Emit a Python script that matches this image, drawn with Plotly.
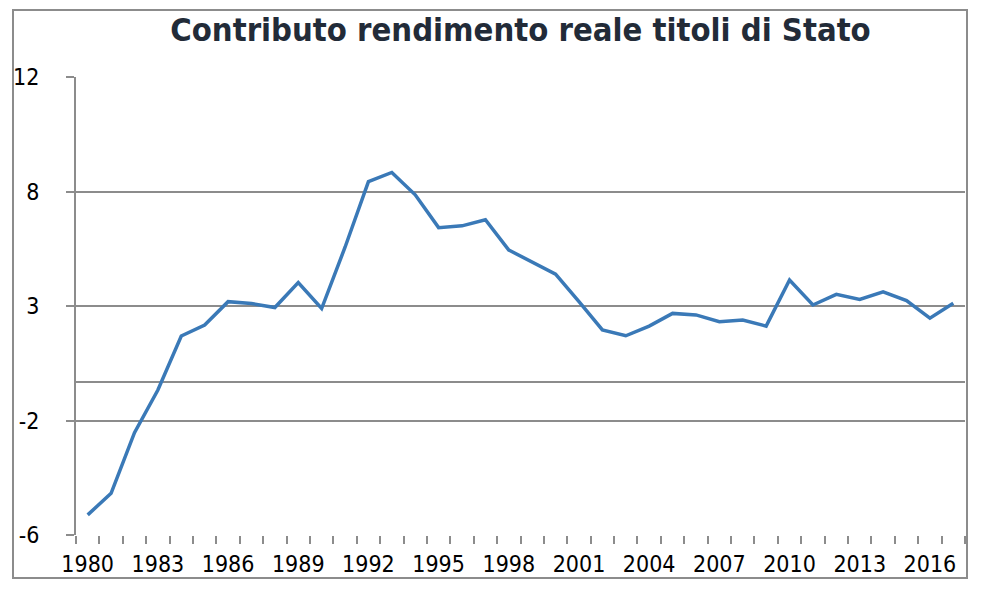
import plotly.graph_objects as go

years = list(range(1980, 2018))
values = [-5.21, -4.36, -1.98, -0.30, 1.82, 2.25, 3.17, 3.10, 2.94, 3.92,
          2.90, 5.31, 7.89, 8.25, 7.37, 6.08, 6.15, 6.39, 5.20, 4.73,
          4.25, 3.17, 2.06, 1.83, 2.21, 2.71, 2.65, 2.38, 2.45, 2.21,
          4.02, 3.04, 3.46, 3.26, 3.56, 3.21, 2.52, 3.11]
y_tickvals = [-6, -1.5, 3, 7.5, 12]
y_ticktext = ["-6", "-2", "3", "8", "12"]
x_label_years = list(range(1980, 2018, 3))
title_text = "Contributo rendimento reale titoli di Stato"

# the page body has an 8px margin, so the figure is drawn 8px in from the window edge
OFF = 8
W, H = 982 - OFF, 594 - OFF
ml, mt = 76 - OFF, 77 - OFF
mr = W - (965 - OFF)
mb = H - (535 - OFF)
pw, ph = W - ml - mr, H - mt - mb

GRID = "#8c8c8c"
FONT = "DejaVu Sans Condensed, DejaVu Sans, sans-serif"
TICK_SIZE = 23

fig = go.Figure()
fig.add_trace(go.Scatter(x=years, y=values, mode="lines",
                         line=dict(color="#3a79b7", width=3.5),
                         hoverinfo="x+y", showlegend=False))

fig.update_layout(
    width=W, height=H,
    margin=dict(l=ml, r=mr, t=mt, b=mb, autoexpand=False),
    paper_bgcolor="white", plot_bgcolor="white",
    title=dict(text="<b>" + title_text + "</b>", x=0.5, xref="paper",
               y=1 - (30 - OFF) / H, yref="container", yanchor="middle", xanchor="center",
               font=dict(family=FONT, size=32.5, color="#222b38")),
    font=dict(family=FONT, size=TICK_SIZE, color="black"),
)

fig.update_xaxes(
    automargin=False,
    range=[years[0] - 0.5, years[-1] + 0.5],
    tickmode="array", tickvals=x_label_years,
    ticktext=[str(v) for v in x_label_years],
    ticks="", showgrid=False, zeroline=False,
    showline=False, ticklabelstandoff=13,
    tickfont=dict(family=FONT, size=TICK_SIZE, color="black"),
    minor=dict(tickmode="array",
               tickvals=[y - 0.5 for y in years] + [years[-1] + 0.5],
               ticks="outside", ticklen=8, tickwidth=2, tickcolor=GRID,
               showgrid=False),
)
fig.update_yaxes(
    automargin=False,
    range=[-6, 12], tickmode="array", tickvals=y_tickvals, ticktext=y_ticktext,
    ticks="outside", ticklen=8, tickwidth=2, tickcolor=GRID,
    showgrid=True, gridcolor=GRID, gridwidth=2,
    zeroline=True, zerolinecolor=GRID, zerolinewidth=2,
    showline=True, linecolor=GRID, linewidth=2,
    ticklabelstandoff=22,
    tickfont=dict(family=FONT, size=TICK_SIZE, color="black"),
)

# outer chart frame
fig.add_shape(type="rect", xref="paper", yref="paper",
              x0=(13 - OFF - ml) / pw, x1=(967 - OFF - ml) / pw,
              y0=(H - mb - (578 - OFF)) / ph, y1=(H - mb - (10 - OFF)) / ph,
              line=dict(color=GRID, width=2), fillcolor="rgba(0,0,0,0)", layer="below")

fig.write_html("out.html")
